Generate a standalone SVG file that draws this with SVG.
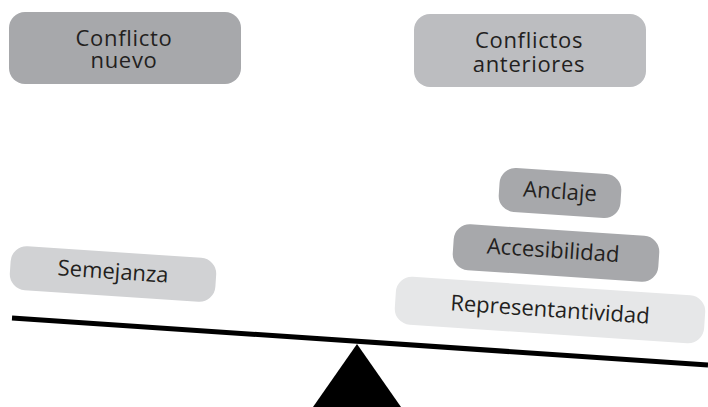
<svg xmlns="http://www.w3.org/2000/svg" width="708" height="407" viewBox="0 0 708 407">
<style>
text{font-family:"Open Sans","Noto Sans","Liberation Sans",sans-serif;fill:#231f20;text-anchor:middle;font-size:22px}
.h{letter-spacing:0.7px}
.d{fill:#a7a8ab}
.m{fill:#bcbdc0}
.l{fill:#d1d2d4}
.x{fill:#e6e7e8}
</style>
<rect width="708" height="407" fill="#fff"/>
<g id="conflicto-nuevo">
<rect class="d" x="9" y="12" width="232" height="72" rx="16"/>
<text class="h" x="124" y="46">Conflicto</text>
<text class="h" x="124" y="68">nuevo</text>
</g>
<g id="conflictos-anteriores">
<rect class="m" x="414" y="14" width="232" height="73" rx="16"/>
<text class="h" x="529" y="48">Conflictos</text>
<text class="h" x="529" y="72">anteriores</text>
</g>
<g id="semejanza" transform="translate(113,274) rotate(3.8)">
<rect class="l" x="-103" y="-22" width="206" height="44" rx="16"/>
<text x="0" y="5">Semejanza</text>
</g>
<g id="anclaje" transform="translate(560,193) rotate(3.8)">
<rect class="d" x="-61" y="-22" width="122" height="44" rx="16"/>
<text x="0" y="6">Anclaje</text>
</g>
<g id="accesibilidad" transform="translate(556,253) rotate(3.8)">
<rect class="d" x="-103" y="-23" width="206" height="46" rx="16"/>
<text x="-3" y="5">Accesibilidad</text>
</g>
<g id="representantividad" transform="translate(550,310) rotate(3.8)">
<rect class="x" x="-155" y="-24" width="310" height="48" rx="16"/>
<text x="0" y="7">Representantividad</text>
</g>
<g id="balanza">
<line x1="12" y1="318" x2="708" y2="365" stroke="#000" stroke-width="5"/>
<polygon points="357,344 313,407 401,407" fill="#000"/>
</g>
</svg>
